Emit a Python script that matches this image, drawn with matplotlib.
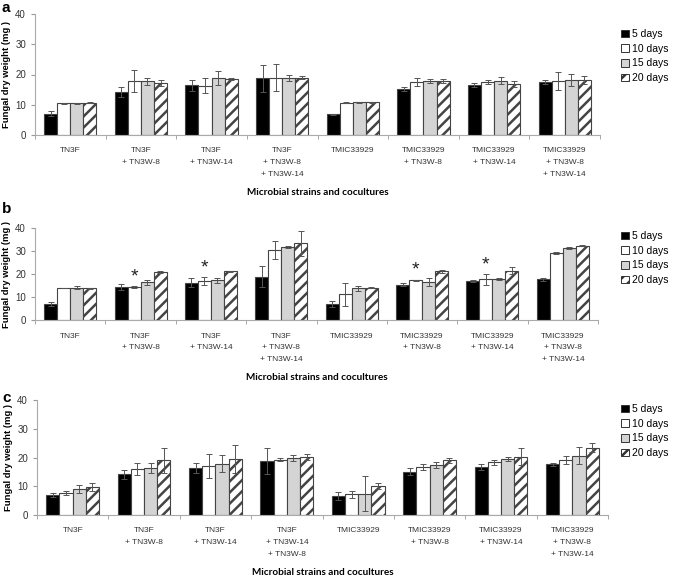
import numpy as np
import matplotlib.pyplot as plt
from matplotlib.patches import Patch

plt.rcParams['font.family'] = ['Liberation Sans', 'DejaVu Sans']
plt.rcParams['hatch.linewidth'] = 1.8

W, H = 677, 583

days = ["5 days", "10 days", "15 days", "20 days"]

labels_ab = ["TN3F", "TN3F\n+ TN3W-8", "TN3F\n+ TN3W-14", "TN3F\n+ TN3W-8\n+ TN3W-14",
             "TMIC33929", "TMIC33929\n+ TN3W-8", "TMIC33929\n+ TN3W-14",
             "TMIC33929\n+ TN3W-8\n+ TN3W-14"]
labels_c = ["TN3F", "TN3F\n+ TN3W-8", "TN3F\n+ TN3W-14", "TN3F\n+ TN3W-14\n+ TN3W-8",
            "TMIC33929", "TMIC33929\n+ TN3W-8", "TMIC33929\n+ TN3W-14",
            "TMIC33929\n+ TN3W-8\n+ TN3W-14"]

# panel a: rows = strains, cols = days
a_mean = [[7.0, 10.5, 10.5, 10.7],
          [14.2, 17.8, 17.8, 17.3],
          [16.5, 16.3, 18.7, 18.6],
          [18.8, 19.0, 18.8, 19.0],
          [6.8, 10.7, 10.8, 10.8],
          [15.2, 17.4, 17.9, 17.9],
          [16.6, 17.5, 17.9, 16.8],
          [17.6, 17.9, 18.2, 18.2]]
a_err = [[0.8, 0.1, 0.1, 0.1],
         [1.6, 3.6, 1.2, 1.0],
         [1.8, 2.4, 2.3, 0.4],
         [4.5, 4.6, 1.1, 0.4],
         [0.2, 0.1, 0.1, 0.1],
         [0.8, 1.3, 0.6, 0.7],
         [0.7, 0.8, 1.2, 1.0],
         [0.7, 3.0, 2.0, 1.2]]

# panel b
b_mean = [[7.0, 14.0, 14.0, 13.8],
          [14.4, 14.5, 16.4, 21.0],
          [16.3, 16.9, 17.3, 21.2],
          [18.9, 30.5, 31.7, 33.4],
          [7.0, 11.2, 13.7, 14.1],
          [15.4, 17.3, 16.7, 21.1],
          [16.9, 17.7, 17.9, 21.5],
          [17.7, 29.1, 31.3, 32.3]]
b_err = [[0.8, 0.1, 0.7, 0.3],
         [1.3, 0.4, 1.2, 0.5],
         [2.0, 1.7, 1.1, 0.2],
         [4.5, 4.0, 0.6, 5.5],
         [1.2, 5.1, 1.3, 0.3],
         [0.5, 0.3, 1.7, 0.5],
         [0.5, 2.4, 0.5, 1.4],
         [0.6, 0.3, 0.6, 0.3]]
b_star = [1, 2, 5, 6]  # groups with * over the 10-day bar

# panel c
c_mean = [[7.0, 7.6, 9.0, 9.7],
          [14.1, 16.0, 16.4, 19.0],
          [16.3, 17.0, 17.8, 19.6],
          [18.9, 19.3, 19.9, 20.1],
          [6.6, 7.2, 7.4, 10.1],
          [15.1, 16.8, 17.4, 19.0],
          [16.7, 18.3, 19.5, 20.3],
          [17.6, 19.0, 20.6, 23.4]]
c_err = [[0.8, 0.6, 1.4, 1.4],
         [1.6, 2.2, 1.8, 4.4],
         [1.8, 4.1, 2.9, 4.9],
         [4.5, 0.6, 1.1, 1.0],
         [1.3, 1.3, 6.0, 1.2],
         [1.2, 1.0, 1.0, 1.0],
         [1.0, 1.0, 0.6, 3.0],
         [0.6, 1.4, 2.9, 1.6]]

faces = ["black", "white", "#d4d4d4", "white"]
hatches = [None, None, None, "///"]


def draw_panel(rect_px, letter, letter_top, mean, err, labels, legend_top, star=None):
    l, t, r, b = rect_px
    ax = fig.add_axes([l / W, 1 - b / H, (r - l) / W, (b - t) / H])
    mean = np.array(mean)
    err = np.array(err)
    x = np.arange(len(labels))
    bw = 0.185
    for j in range(4):
        xs = x + (j - 1.5) * bw
        ax.bar(xs, mean[:, j], bw, color=faces[j], edgecolor="#444444",
               linewidth=0.8, hatch=hatches[j], zorder=2)
        ax.errorbar(xs, mean[:, j], yerr=err[:, j], fmt="none", ecolor="#555555",
                    elinewidth=0.7, capsize=2, capthick=0.7, zorder=3)
    if star:
        for g in star:
            xs = g - 0.5 * bw
            ax.text(xs, mean[g, 1] + err[g, 1] + 0.3, "*", ha="center", va="bottom",
                    fontsize=14, color="#222222")
    ax.set_xlim(-0.5, len(labels) - 0.5)
    ax.set_ylim(0, 40)
    ax.set_yticks([0, 10, 20, 30, 40])
    ax.set_xticks(x)
    ax.set_xticklabels(labels, fontsize=6, linespacing=1.95, va="top", color="#333333")
    ax.set_xticks(np.arange(-0.5, len(labels)), minor=True)
    ax.tick_params(axis="x", which="major", length=0, pad=9)
    ax.tick_params(axis="x", which="minor", length=3, color="#999999")
    ax.tick_params(axis="y", labelsize=7, length=3, color="#999999", labelcolor="#333333")
    for s in ("top", "right"):
        ax.spines[s].set_visible(False)
    for s in ("left", "bottom"):
        ax.spines[s].set_color("#aaaaaa")
        ax.spines[s].set_linewidth(0.8)
    ax.set_ylabel("Fungal dry weight (mg )", fontsize=6.8, fontweight="bold", labelpad=3)
    ax.set_xlabel("Microbial strains and cocultures", fontsize=7.2, fontweight="bold",
                  fontfamily=["Lato", "DejaVu Sans"], labelpad=7)
    ax.text(2 / W, 1 - letter_top / H, letter, transform=fig.transFigure,
            fontsize=11, fontweight="bold", va="top", ha="left")
    handles = [Patch(facecolor=faces[j], edgecolor="#333333", hatch=hatches[j],
                     linewidth=0.7) for j in range(4)]
    fig.legend(handles, days, loc="upper left", frameon=False, fontsize=7.5,
               bbox_to_anchor=(621 / W, 1 - legend_top / H), handlelength=0.75,
               handleheight=0.75, handletextpad=0.3, labelspacing=0.45,
               borderaxespad=0, borderpad=0)
    return ax


fig = plt.figure(figsize=(W / 100, H / 100), dpi=100)

draw_panel((35, 14, 600, 135), "a", 1, a_mean, a_err, labels_ab, 29)
draw_panel((35, 228, 598, 320), "b", 202, b_mean, b_err, labels_ab, 231, star=b_star)
draw_panel((37, 400, 608, 515), "c", 391, c_mean, c_err, labels_c, 404)

fig.savefig("out.png", dpi=100)
